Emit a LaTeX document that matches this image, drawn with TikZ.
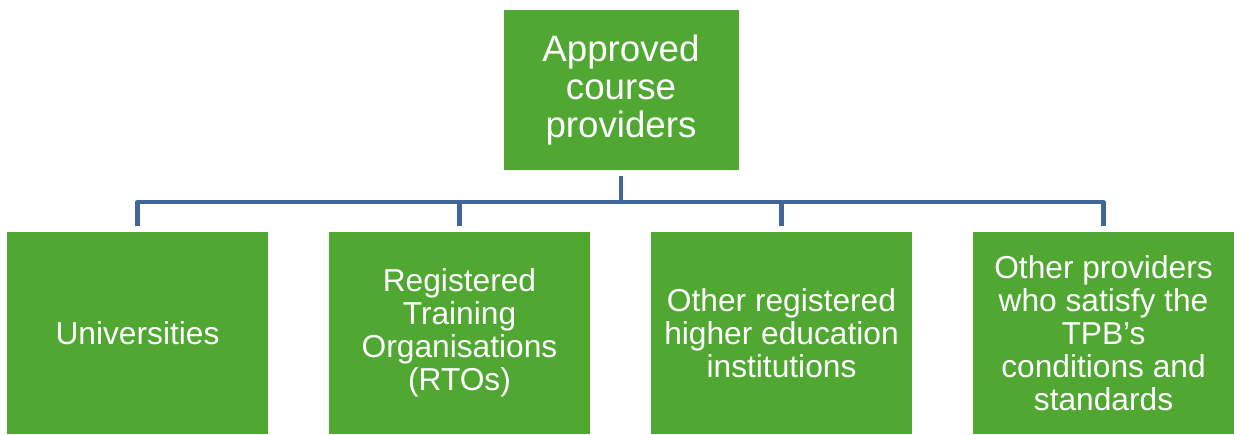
\documentclass[tikz,border=0pt]{standalone}
\usepackage{fontspec}
\setmainfont{Liberation Sans}
\definecolor{boxgreen}{HTML}{50A833}
\definecolor{busblue}{HTML}{41679A}

\begin{document}
\begin{tikzpicture}[x=1pt,y=1pt,
    provider/.style={fill=boxgreen, text=white, align=center, inner sep=0pt,
        minimum width=261pt, minimum height=202pt,
        font=\fontsize{31.7}{33}\selectfont},
    bus/.style={draw=busblue, line width=4.5pt, line join=round}]

\useasboundingbox (0,0) rectangle (1234,434);

\node[provider, minimum width=235pt, minimum height=160pt,
      font=\fontsize{36.7}{38}\selectfont] (top) at (621,344) {Approved\\course\\providers};

\node[provider] (uni) at (137.5,101) {Universities};
\node[provider] (rto) at (459.5,101) {Registered\\Training\\Organisations\\(RTOs)};
\node[provider] (hei) at (781.5,101) {Other registered\\higher education\\institutions};
\node[provider] (oth) at (1103.5,101) {Other providers\\who satisfy the\\TPB’s\\conditions and\\standards};

\coordinate (split) at ([yshift=-32pt]top.south);

\draw[bus] ([yshift=-6pt]top.south) -- (split);
\foreach \n in {uni,rto,hei,oth}
    \draw[bus] (split) -| ([yshift=6pt]\n.north);

\end{tikzpicture}
\end{document}
